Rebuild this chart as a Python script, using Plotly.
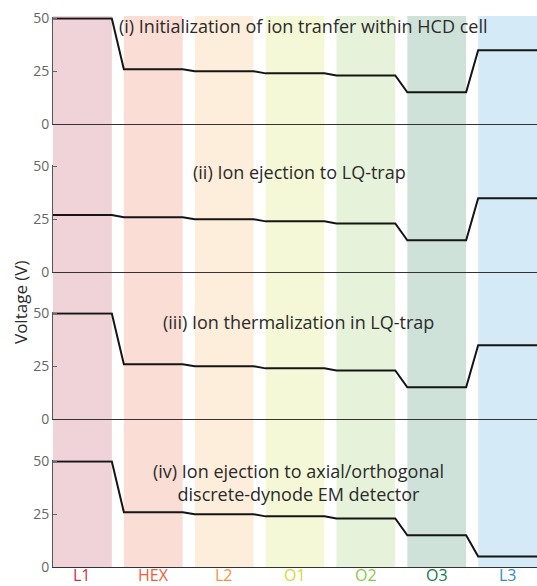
import plotly.graph_objects as go
from plotly.subplots import make_subplots

# Ion-optics elements along the beam path
elements = ["L1", "HEX", "L2", "O1", "O2", "O3", "L3"]
label_colors = ["#D52F3B", "#F25C37", "#F6923B", "#D4DB33", "#8CC63F", "#17784C", "#3A87C9"]
band_colors = ["#F0D3D8", "#FADDD4", "#FDEEDC", "#F5F8D6", "#E6F2DA", "#CFE2DA", "#D4EAF6"]

# Potentials (V) applied to each element in the four operating steps
v_init = [50, 26, 25, 24, 23, 15, 35]
v_eject_lq = [27, 26, 25, 24, 23, 15, 35]
v_thermal = [50, 26, 25, 24, 23, 15, 35]
v_eject_det = [50, 26, 25, 24, 23, 15, 5]

step_titles = [
    "(i) Initialization of ion tranfer within HCD cell",
    "(ii) Ion ejection to LQ-trap",
    "(iii) Ion thermalization in LQ-trap",
    "(iv) Ion ejection to axial/orthogonal<br>discrete-dynode EM detector",
]
y_ticks = [0, 25, 50]

W, H = 537, 586
L_MARGIN = 53
HALF = 0.415          # half width of an element band, in element units
FONT = "Open Sans"

series = [v_init, v_eject_lq, v_thermal, v_eject_det]

# pixel rows of the zero line and of the 50 V level for each step
zero_px = [124, 272, 419, 567]
px_per_volt = 2.11
y_top = 50.6


def ypaper(px):
    return (H - px) / H


fig = make_subplots(rows=4, cols=1, shared_xaxes=True)

for r, volts in enumerate(series, start=1):
    xs, ys = [], []
    for i, v in enumerate(volts):
        xs += [i - HALF, i + HALF]
        ys += [v, v]
    fig.add_trace(
        go.Scatter(x=xs, y=ys, mode="lines",
                   line=dict(color="#151515", width=2), showlegend=False,
                   hoverinfo="skip"),
        row=r, col=1,
    )
    z = zero_px[r - 1]
    top = z - y_top * px_per_volt
    dom = [ypaper(z), ypaper(top)]
    fig.update_yaxes(
        domain=dom, range=[0, y_top], tickvals=y_ticks,
        ticks="inside", ticklen=4, tickcolor="#666", tickwidth=1,
        showline=True, linecolor="#555", linewidth=1,
        showgrid=False, zeroline=False, automargin=False,
        tickfont=dict(family=FONT, size=14, color="#666"),
        row=r, col=1,
    )
    fig.update_xaxes(
        range=[-HALF, len(elements) - 1 + HALF],
        showline=True, linecolor="#333", linewidth=1,
        showgrid=False, zeroline=False, showticklabels=False, ticks="",
        automargin=False,
        row=r, col=1,
    )

# vertical coloured bands, one per element, across all four steps
for i, c in enumerate(band_colors):
    fig.add_shape(type="rect", xref="x", yref="paper",
                  x0=i - HALF, x1=i + HALF,
                  y0=ypaper(568), y1=ypaper(16),
                  fillcolor=c, line=dict(width=0), layer="below")

# element names under the bottom panel
for i, (name, c) in enumerate(zip(elements, label_colors)):
    fig.add_annotation(x=i, xref="x4", y=ypaper(575), yref="paper",
                       text=name, showarrow=False, yanchor="middle",
                       font=dict(family=FONT, size=16, color=c))

# step descriptions
title_pos = [(303, 26), (299, 172), (298, 322), (298, 482)]
for (px, py), t in zip(title_pos, step_titles):
    fig.add_annotation(x=(px - L_MARGIN) / (W - L_MARGIN), xref="paper",
                       y=ypaper(py), yref="paper", text=t, showarrow=False,
                       xanchor="center", yanchor="middle",
                       font=dict(family=FONT, size=18, color="#2b2b2b"))

fig.add_annotation(x=(20 - L_MARGIN) / (W - L_MARGIN), xref="paper",
                   y=ypaper(302), yref="paper", text="Voltage (V)",
                   textangle=-90, showarrow=False,
                   xanchor="center", yanchor="middle",
                   font=dict(family=FONT, size=17, color="#2b2b2b"))

fig.update_layout(
    width=W, height=H,
    margin=dict(l=L_MARGIN, r=0, t=0, b=0),
    paper_bgcolor="white", plot_bgcolor="rgba(0,0,0,0)",
)

fig.write_html("out.html")
